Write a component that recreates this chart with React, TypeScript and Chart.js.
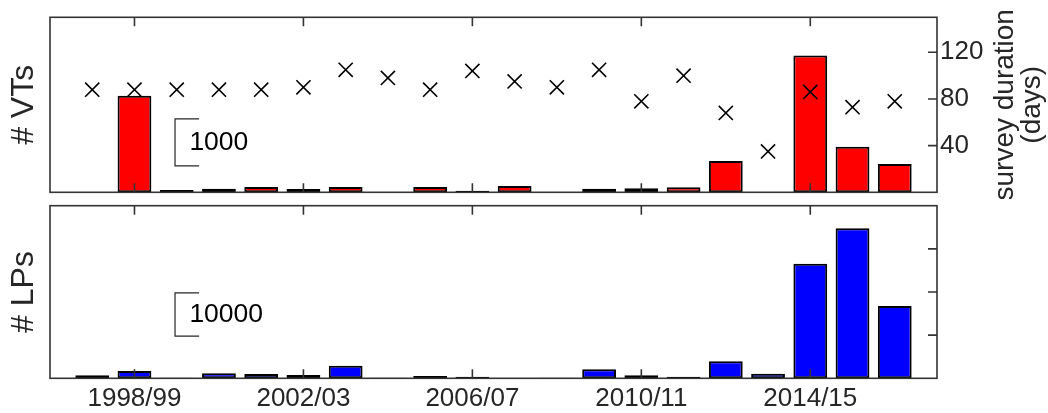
import React, { useEffect, useRef } from 'react';
import { Chart, registerables } from 'chart.js';

Chart.register(...registerables);

// Eruptive seasons on the x axis
const SEASONS = [
  '1997/98', '1998/99', '1999/00', '2000/01', '2001/02', '2002/03', '2003/04',
  '2004/05', '2005/06', '2006/07', '2007/08', '2008/09', '2009/10', '2010/11',
  '2011/12', '2012/13', '2013/14', '2014/15', '2015/16', '2016/17',
];

// Number of volcano-tectonic events per season
const VT_COUNTS = [0, 2055, 50, 77, 113, 70, 113, 5, 113, 34, 134, 5, 77, 85, 106, 666, 0, 2906, 970, 602];

// Number of long-period events per season
const LP_COUNTS = [700, 1700, 100, 1160, 1000, 760, 2920, 100, 530, 370, 80, 100, 2090, 700, 370, 3940, 1070, 26560, 34760, 16760];

// Length of each field survey (days)
const SURVEY_DAYS = [88, 88, 88, 88, 88, 90, 105, 98, 88, 104, 95, 90, 105, 78, 100, 68, 35, 86, 73, 78];

// Seasons that carry a labelled tick
const X_TICK_INDEX = [1, 5, 9, 13, 17];
const DAY_TICKS = [40, 80, 120];
const LP_TICKS = [10000, 20000, 30000];

// Axis ranges
const X_RANGE = [-1, 20];
const VT_MAX = 3720;
const LP_MAX = 40000;
const DAY_MAX = 150;

// Scale bars drawn inside each panel (value units)
const VT_SCALE = { from: 560, length: 1000, label: '1000' };
const LP_SCALE = { from: 9790, length: 10000, label: '10000' };
const SCALE_X = { start: 1.96, end: 2.53, text: 2.3 };

const FONT = "'Liberation Sans', Arial, Helvetica, sans-serif";
const INK = '#262626';
const TICK_LEN = 9;

function framePlugin(rightAxis: string, rightTicks: number[]) {
  return {
    id: 'frame',
    afterDatasetsDraw(chart: any) {
      const { ctx, chartArea: a, scales } = chart;
      ctx.save();
      ctx.strokeStyle = '#333333';
      ctx.lineWidth = 1.6;
      ctx.strokeRect(a.left, a.top, a.right - a.left, a.bottom - a.top);
      ctx.beginPath();
      for (const i of X_TICK_INDEX) {
        const px = scales.x.getPixelForValue(i);
        ctx.moveTo(px, a.bottom);
        ctx.lineTo(px, a.bottom - TICK_LEN);
        ctx.moveTo(px, a.top);
        ctx.lineTo(px, a.top + TICK_LEN);
      }
      for (const v of rightTicks) {
        const py = scales[rightAxis].getPixelForValue(v);
        ctx.moveTo(a.right, py);
        ctx.lineTo(a.right - TICK_LEN, py);
      }
      ctx.stroke();
      ctx.restore();
    },
  };
}

function scaleBarPlugin(axis: string, bar: { from: number; length: number; label: string }) {
  return {
    id: 'scaleBar',
    afterDatasetsDraw(chart: any) {
      const { ctx, scales } = chart;
      const x0 = scales.x.getPixelForValue(SCALE_X.start);
      const x1 = scales.x.getPixelForValue(SCALE_X.end);
      const y0 = scales[axis].getPixelForValue(bar.from);
      const y1 = scales[axis].getPixelForValue(bar.from + bar.length);
      ctx.save();
      ctx.strokeStyle = INK;
      ctx.lineWidth = 1.2;
      ctx.beginPath();
      ctx.moveTo(x1, y1);
      ctx.lineTo(x0, y1);
      ctx.lineTo(x0, y0);
      ctx.lineTo(x1, y0);
      ctx.stroke();
      ctx.fillStyle = '#000';
      ctx.font = `26.5px ${FONT}`;
      ctx.textAlign = 'left';
      ctx.textBaseline = 'middle';
      ctx.fillText(bar.label, scales.x.getPixelForValue(SCALE_X.text), (y0 + y1) / 2);
      ctx.restore();
    },
  };
}

function titlesPlugin(left: string, right: string[] | null) {
  return {
    id: 'titles',
    afterDraw(chart: any) {
      const { ctx, chartArea: a } = chart;
      const cy = (a.top + a.bottom) / 2;
      ctx.save();
      ctx.fillStyle = INK;
      ctx.textAlign = 'center';
      ctx.textBaseline = 'middle';
      ctx.font = `32px ${FONT}`;
      ctx.translate(24, cy);
      ctx.rotate(-Math.PI / 2);
      ctx.fillText(left, 0, 0);
      ctx.restore();
      if (right) {
        ctx.save();
        ctx.fillStyle = INK;
        ctx.textAlign = 'center';
        ctx.textBaseline = 'middle';
        ctx.font = `28px ${FONT}`;
        const xs = [1005, 1032];
        right.forEach((line, k) => {
          ctx.save();
          ctx.translate(xs[k], cy);
          ctx.rotate(-Math.PI / 2);
          ctx.fillText(line, 0, 0);
          ctx.restore();
        });
        ctx.restore();
      }
    },
  };
}

const tickFont = { family: FONT, size: 26 };

export default function App() {
  const topRef = useRef<HTMLCanvasElement>(null);
  const bottomRef = useRef<HTMLCanvasElement>(null);

  useEffect(() => {
    const top = new Chart(topRef.current as HTMLCanvasElement, {
      type: 'bar',
      data: {
        datasets: [
          {
            type: 'line',
            label: 'survey duration',
            data: SURVEY_DAYS.map((d, i) => ({ x: i, y: d })),
            yAxisID: 'yDays',
            showLine: false,
            pointStyle: 'crossRot',
            pointRadius: 10,
            pointBorderWidth: 1.6,
            borderColor: '#000',
            backgroundColor: '#000',
            order: 0,
          } as any,
          {
            type: 'bar',
            label: '# VTs',
            data: VT_COUNTS.map((v, i) => ({ x: i, y: v })),
            yAxisID: 'yCount',
            backgroundColor: '#ff0000',
            borderColor: '#000',
            borderWidth: 2,
            borderSkipped: false,
            barPercentage: 0.8,
            categoryPercentage: 1,
            order: 1,
          } as any,
        ],
      },
      options: {
        responsive: false,
        maintainAspectRatio: false,
        animation: false,
        layout: { autoPadding: false, padding: { left: 50, top: 17.3, bottom: 6.7, right: 0 } },
        plugins: { legend: { display: false }, tooltip: { enabled: false } },
        scales: {
          x: {
            type: 'linear',
            min: X_RANGE[0],
            max: X_RANGE[1],
            offset: false,
            grid: { offset: false },
            display: false,
          },
          yCount: { type: 'linear', position: 'left', min: 0, max: VT_MAX, display: false },
          yDays: {
            type: 'linear',
            position: 'right',
            min: 0,
            max: DAY_MAX,
            grid: { display: false, drawTicks: false },
            border: { display: false },
            ticks: { font: tickFont, color: INK, padding: 3 },
            afterBuildTicks: (s: any) => {
              s.ticks = DAY_TICKS.map((v) => ({ value: v }));
            },
            afterFit: (s: any) => {
              s.width = 111;
              s.paddingTop = 0;
              s.paddingBottom = 0;
            },
          },
        },
      } as any,
      plugins: [
        framePlugin('yDays', DAY_TICKS),
        scaleBarPlugin('yCount', VT_SCALE),
        titlesPlugin('# VTs', ['survey duration', '(days)']),
      ],
    });

    const bottom = new Chart(bottomRef.current as HTMLCanvasElement, {
      type: 'bar',
      data: {
        datasets: [
          {
            label: '# LPs',
            data: LP_COUNTS.map((v, i) => ({ x: i, y: v })),
            yAxisID: 'yCount',
            backgroundColor: '#0000ff',
            borderColor: '#000',
            borderWidth: 2,
            borderSkipped: false,
            barPercentage: 0.8,
            categoryPercentage: 1,
          } as any,
        ],
      },
      options: {
        responsive: false,
        maintainAspectRatio: false,
        animation: false,
        layout: { autoPadding: false, padding: { left: 50, top: 6.7, bottom: 0, right: 0 } },
        plugins: { legend: { display: false }, tooltip: { enabled: false } },
        scales: {
          x: {
            type: 'linear',
            position: 'bottom',
            min: X_RANGE[0],
            max: X_RANGE[1],
            offset: false,
            grid: { display: false, drawTicks: false, offset: false },
            border: { display: false },
            ticks: {
              font: tickFont,
              color: INK,
              padding: 5,
              autoSkip: false,
              maxRotation: 0,
              callback: (v: any) => SEASONS[v as number],
            },
            afterBuildTicks: (s: any) => {
              s.ticks = X_TICK_INDEX.map((v) => ({ value: v }));
            },
            afterFit: (s: any) => {
              s.height = 34.7;
              s.paddingLeft = 0;
              s.paddingRight = 0;
            },
          },
          yCount: {
            type: 'linear',
            position: 'right',
            min: 0,
            max: LP_MAX,
            grid: { display: false, drawTicks: false },
            border: { display: false },
            ticks: { display: false },
            afterFit: (s: any) => {
              s.width = 111;
              s.paddingTop = 0;
              s.paddingBottom = 0;
            },
          },
        },
      } as any,
      plugins: [
        framePlugin('yCount', LP_TICKS),
        scaleBarPlugin('yCount', LP_SCALE),
        titlesPlugin('# LPs', null),
      ],
    });

    return () => {
      top.destroy();
      bottom.destroy();
    };
  }, []);

  return (
    <div style={{ position: 'absolute', left: 0, top: 0, width: 1048, height: 413, background: '#fff' }}>
      <canvas ref={topRef} width={1048} height={199} style={{ position: 'absolute', left: 0, top: 0, display: 'block' }} />
      <canvas ref={bottomRef} width={1048} height={214} style={{ position: 'absolute', left: 0, top: 199, display: 'block' }} />
    </div>
  );
}
